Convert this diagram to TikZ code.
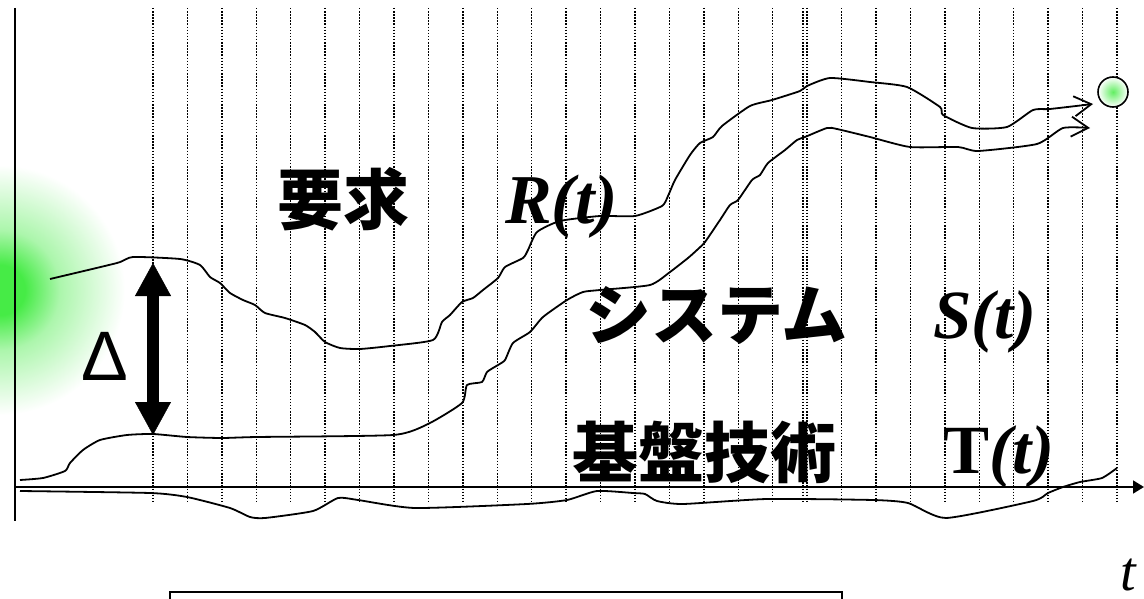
\documentclass[tikz,border=0pt]{standalone}
\usepackage{fontspec}
\setmainfont{Liberation Serif}
\newfontfamily\jpfont{Noto Sans CJK JP}
\newfontfamily\symfont{Liberation Sans}
\usetikzlibrary{arrows.meta}

\definecolor{glowgreen}{RGB}{70,235,70}
\pgfdeclareradialshading{greenglow}{\pgfpoint{0bp}{0bp}}{color(0bp)=(glowgreen); color(5bp)=(glowgreen); color(12bp)=(glowgreen!45); color(25bp)=(white); color(50bp)=(white)}

\begin{document}
\begin{tikzpicture}[x=1pt,y=-1pt,
    gridline/.style={line width=1.4pt,dash pattern=on 1.5pt off 1.6pt},
    axisline/.style={line width=1.8pt},
    curve/.style={line width=1.8pt,line join=round},
    openhead/.style={-{Straight Barb[length=17pt,width=20pt]}},
    gaparrow/.style={line width=12pt,{Triangle[length=33pt,width=36pt,line width=0.4pt]}-{Triangle[length=33pt,width=36pt,line width=0.4pt]}}]

      \useasboundingbox (0,0) rectangle (1144,599);
      \clip (0,0) rectangle (1144,599);

      % Glow and grid
      \shade[shading=greenglow] (0,290) circle (125);
      \foreach \i in {0,...,28}
        \draw[gridline] ({153+34.43*\i},8) -- ({153+34.43*\i},502);
      \draw[gridline] (803,8) -- (803,502);

      % Axes
      \draw[axisline] (15,8) -- (15,521);
      \draw[axisline,-{Triangle[length=11pt,width=13pt]}] (15,487) -- (1144,487);

      % Curves
      \draw[curve,openhead] plot[smooth,tension=0.35] coordinates {
        (50,279) (117,263) (133,257) (180,259) (200,265) (210,277) (220,283)
        (230,293) (243,300) (255,305) (265,313) (285,318) (305,325) (315,332)
        (325,342) (340,348) (360,349) (390,346) (433,340) (442,322) (450,315)
        (462,302) (473,298) (483,290) (498,278) (505,267) (523,258) (528,250)
        (537,232) (560,221) (600,216) (635,216) (662,206) (668,196) (675,180)
        (690,155) (700,143) (713,137) (722,126) (750,106) (772,100) (800,91)
        (807,86) (830,78) (870,82) (907,87) (940,107) (943,115) (972,128)
        (1007,127) (1033,110) (1050,109) (1093,104)};
      \draw[curve,openhead] plot[smooth,tension=0.35] coordinates {
        (20,480) (43,478) (65,471) (70,463) (83,450) (100,440) (127,435)
        (153,434) (187,437) (222,438) (257,437) (393,435) (428,424) (462,403)
        (467,385) (482,382) (487,372) (498,365) (505,360) (513,343) (530,332)
        (543,317) (567,300) (583,292) (600,290) (650,285) (670,272) (688,258)
        (697,250) (705,242) (720,220) (730,205) (738,200) (752,180) (760,175)
        (768,163) (785,150) (797,140) (805,137) (827,128) (837,129) (870,137)
        (910,147) (958,147) (978,151) (1037,144) (1063,128) (1090,128)};
      \draw[curve] plot[smooth,tension=0.35] coordinates {
        (20,491) (150,493) (187,497) (230,508) (250,517) (265,518) (313,511)
        (338,498) (358,500) (415,508) (527,504) (567,500) (597,491) (633,493)
        (645,494) (657,501) (683,504) (767,499) (873,500) (908,503) (946,518)
        (1033,501) (1048,493) (1063,487) (1080,482) (1102,478) (1117,468)};

      % Nodes
      \node[circle,draw,line width=1.6pt,minimum size=30pt,inner sep=0pt,
            inner color=glowgreen!85,outer color=white] (goal) at (1113,92) {};
      \coordinate (reqtop) at (153,263);
      \coordinate (sysbot) at (153,435);

      \begin{scope}[every node/.style={inner sep=0pt,anchor=base west}]
        \node[font=\jpfont\bfseries\fontsize{66}{66}\selectfont] (req) at (277,225) {要求};
        \node[font=\jpfont\bfseries\fontsize{66}{66}\selectfont] (sys) at (585,339) {システム};
        \node[font=\jpfont\bfseries\fontsize{66}{66}\selectfont] (tech) at (572,477) {基盤技術};
        \node[font=\bfseries\itshape\fontsize{70}{70}\selectfont] (rlab) at (505,223) {R(t)};
        \node[font=\bfseries\itshape\fontsize{69}{69}\selectfont] (slab) at (933,338) {S(t)};
        \node[font=\bfseries\fontsize{69}{69}\selectfont] (tlab) at (943,473) {T\textit{(t)}};
        \node[font=\itshape\fontsize{56}{56}\selectfont] (taxis) at (1120,590) {t};
        \node[font=\symfont\fontsize{70}{70}\selectfont] (delta) at (81,380) {Δ};
      \end{scope}

      % Edges
      \draw[gaparrow] (reqtop) -- (sysbot);
      \draw[line width=1.5pt] (170,610) |- (842,592) -- (842,610);

    \end{tikzpicture}
\end{document}
